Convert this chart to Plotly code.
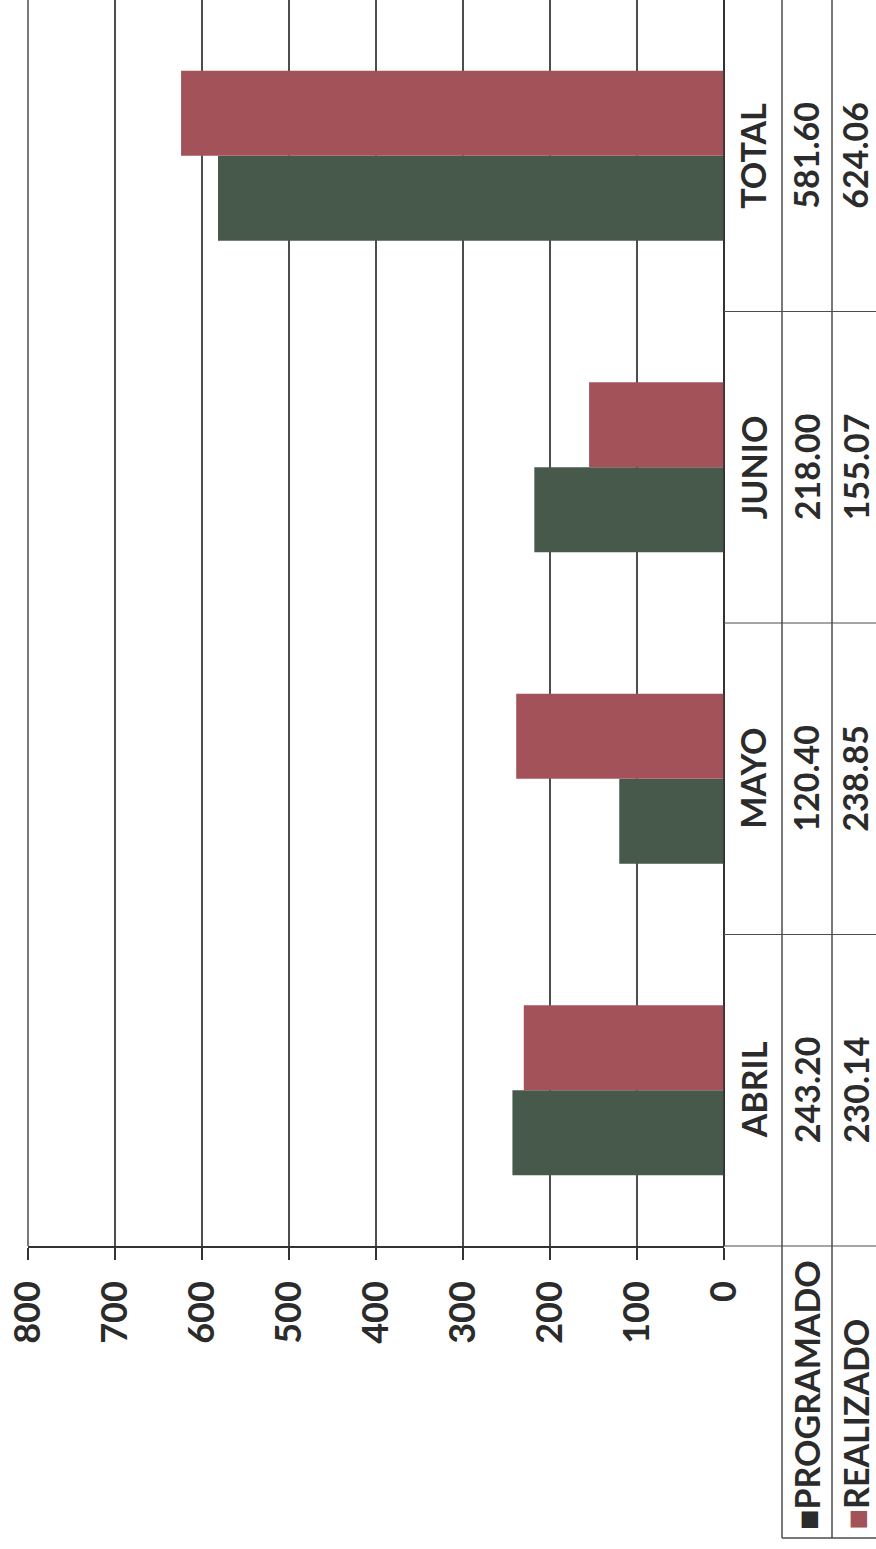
import plotly.graph_objects as go

categories = ["ABRIL", "MAYO", "JUNIO", "TOTAL"]
programado = [243.20, 120.40, 218.00, 581.60]
realizado = [230.14, 238.85, 155.07, 624.06]
tick_vals = [0, 100, 200, 300, 400, 500, 600, 700, 800]

GREEN = "#46594a"
RED = "#a4525a"
LINE = "#333333"
GRID = "#4d4d4d"
TXT = "#2b2b2b"
FONT = "Lato"

W, H = 876, 1549
L, R, T, B = 28, 152, 0, 303
pw = W - L - R
ph = H - T - B


def px_x(px):
    return (px - L) / pw


def px_y(py):
    return (H - B - py) / ph


fig = go.Figure()
fig.add_trace(go.Bar(y=categories, x=programado, orientation="h", name="PROGRAMADO",
                     marker=dict(color=GREEN, line=dict(width=0))))
fig.add_trace(go.Bar(y=categories, x=realizado, orientation="h", name="REALIZADO",
                     marker=dict(color=RED, line=dict(width=0))))

shapes = []
# gridline at the far edge of the value axis (800)
shapes.append(dict(type="line", xref="paper", yref="paper",
                   x0=0, x1=0, y0=0, y1=1.02, line=dict(color=GRID, width=1.5)))
for xp in [782, 832]:
    shapes.append(dict(type="line", xref="paper", yref="paper",
                       x0=px_x(xp), x1=px_x(xp), y0=px_y(1538), y1=1.02,
                       line=dict(color=GRID, width=1.5)))
shapes.append(dict(type="line", xref="paper", yref="paper",
                   x0=1, x1=1, y0=0, y1=1.02, line=dict(color=LINE, width=1.5)))
n = len(categories)
for i in range(1, n):
    shapes.append(dict(type="line", xref="paper", yref="paper",
                       x0=1, x1=px_x(880), y0=i / n, y1=i / n,
                       line=dict(color=GRID, width=1.2)))
shapes.append(dict(type="line", xref="paper", yref="paper",
                   x0=px_x(782), x1=px_x(880), y0=px_y(1538), y1=px_y(1538),
                   line=dict(color=GRID, width=1.5)))
shapes.append(dict(type="line", xref="paper", yref="paper",
                   x0=1, x1=px_x(880), y0=0, y1=0,
                   line=dict(color=GRID, width=1.2)))

annotations = []
fs = 34
tfont = dict(family=FONT, size=fs, color=TXT, weight="bold")
for c, p, r in zip(categories, programado, realizado):
    annotations.append(dict(x=px_x(753), xref="paper", y=c, yref="y", text=c,
                            textangle=-90, showarrow=False, xanchor="center", yanchor="middle",
                            font=tfont))
    annotations.append(dict(x=px_x(806), xref="paper", y=c, yref="y", text=f"{p:.2f}",
                            textangle=-90, showarrow=False, xanchor="center", yanchor="middle",
                            font=tfont))
    annotations.append(dict(x=px_x(855), xref="paper", y=c, yref="y", text=f"{r:.2f}",
                            textangle=-90, showarrow=False, xanchor="center", yanchor="middle",
                            font=tfont))

annotations.append(dict(x=px_x(806), xref="paper", y=px_y(1532), yref="paper",
                        yanchor="bottom", xanchor="center",
                        text=f"<span style='color:{TXT}'>■</span>PROGRAMADO",
                        textangle=-90, showarrow=False, font=tfont))
annotations.append(dict(x=px_x(855), xref="paper", y=px_y(1532), yref="paper",
                        yanchor="bottom", xanchor="center",
                        text=f"<span style='color:{RED}'>■</span>REALIZADO",
                        textangle=-90, showarrow=False, font=tfont))

fig.update_layout(
    width=W, height=H,
    margin=dict(l=L, r=R, t=T, b=B, pad=0),
    paper_bgcolor="white", plot_bgcolor="white",
    barmode="group", bargap=0.455, bargroupgap=0,
    showlegend=False,
    shapes=shapes, annotations=annotations,
    xaxis=dict(range=[800, 0], tickvals=tick_vals, ticktext=[str(v) for v in tick_vals],
               tickangle=-90, showgrid=True, gridcolor=GRID, gridwidth=1.5,
               showline=True, linecolor=LINE, linewidth=1.5,
               ticks="outside", ticklen=12, tickcolor=LINE, tickwidth=1.5,
               ticklabelstandoff=7, zeroline=True, zerolinecolor=LINE, zerolinewidth=1.5,
               tickfont=dict(family=FONT, size=36, color=TXT, weight="bold")),
    yaxis=dict(showticklabels=False, showgrid=False, zeroline=False, ticks="",
               range=[-0.5, 3.5]),
)

fig.write_html("out.html", config={"displayModeBar": False},
               post_script="document.body.style.margin='0';document.body.style.overflow='hidden';")
